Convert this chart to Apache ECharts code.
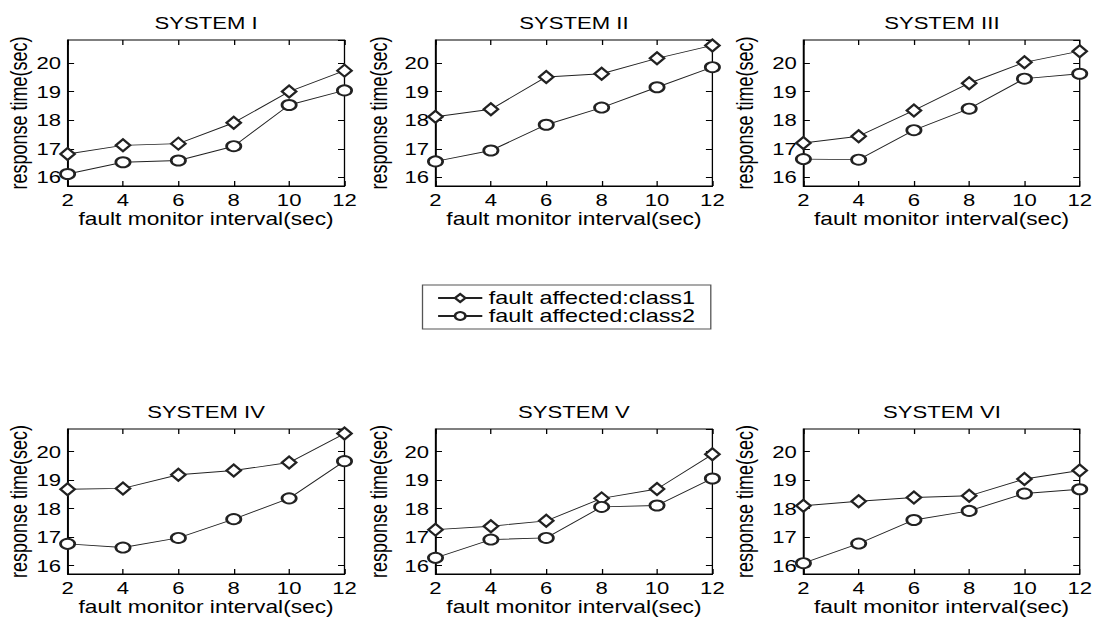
<!DOCTYPE html>
<html>
<head>
<meta charset="utf-8">
<script src="https://cdn.jsdelivr.net/npm/echarts@6.0.0/dist/echarts.min.js"></script>
<style>
html, body { margin: 0; padding: 0; background: #fff; }
#wrap { width: 1096px; height: 617px; overflow: hidden; }
/* the source picture is stretched sideways: draw narrow, then widen */
#xiantu { width: 843px; height: 617px; transform: scaleX(1.3); transform-origin: 0 0; }
</style>
</head>
<body>
<div id="wrap"><div id="xiantu"></div></div>
<script type="text/javascript">
var xs = [2, 4, 6, 8, 10, 12];
var titles = ['SYSTEM I', 'SYSTEM II', 'SYSTEM III', 'SYSTEM IV', 'SYSTEM V', 'SYSTEM VI'];
var names = ['fault affected:class1', 'fault affected:class2'];

// class1 (diamond) / class2 (circle)
var sys1a = [16.82, 17.12, 17.18, 17.91, 19.00, 19.73];
var sys1b = [16.12, 16.53, 16.59, 17.09, 18.53, 19.04];
var sys2a = [18.12, 18.38, 19.51, 19.62, 20.16, 20.61];
var sys2b = [16.56, 16.94, 17.84, 18.44, 19.15, 19.85];
var sys3a = [17.20, 17.44, 18.34, 19.29, 20.02, 20.41];
var sys3b = [16.64, 16.62, 17.65, 18.40, 19.45, 19.62];
var sys4a = [18.68, 18.71, 19.19, 19.34, 19.62, 20.64];
var sys4b = [16.76, 16.63, 16.97, 17.63, 18.36, 19.67];
var sys5a = [17.26, 17.38, 17.57, 18.36, 18.69, 19.91];
var sys5b = [16.27, 16.91, 16.97, 18.06, 18.11, 19.06];
var sys6a = [18.10, 18.26, 18.39, 18.45, 19.04, 19.34];
var sys6b = [16.08, 16.77, 17.60, 17.92, 18.53, 18.68];

var class1 = [sys1a, sys2a, sys3a, sys4a, sys5a, sys6a];
var class2 = [sys1b, sys2b, sys3b, sys4b, sys5b, sys6b];

var font = 'Liberation Sans, Arial, sans-serif';
var lefts = [52, 335, 618];
var tops = [40, 429];
var yGaps = [29, 35, 36];

var dom = document.getElementById("xiantu");
var myChart = echarts.init(dom, null, { renderer: 'svg' });
var option = null;

var grid = [], xAxis = [], yAxis = [], title = [], series = [];

function pairs(arr) {
	return xs.map(function (x, k) { return [x, arr[k]]; });
}

for (var i = 0; i < 6; i++) {
	var row = Math.floor(i / 3), col = i % 3;
	grid.push({
		left: lefts[col], top: tops[row], width: 213, height: 146,
		show: true, borderColor: '#000', borderWidth: 1, backgroundColor: 'transparent'
	});
	title.push({
		text: titles[i],
		left: lefts[col] + 106.5,
		top: row === 0 ? 14 : 403,
		textAlign: 'center',
		padding: 0,
		textStyle: { fontFamily: font, fontSize: 17, fontWeight: 'normal', color: '#000' }
	});
	// bottom x
	xAxis.push({
		gridIndex: i, type: 'value', position: 'bottom', min: 2, max: 12, interval: 2,
		name: 'fault monitor interval(sec)', nameLocation: 'middle', nameGap: 24,
		nameTextStyle: { fontFamily: font, fontSize: 17.5, color: '#000' },
		axisLine: { show: true, lineStyle: { color: '#000', width: 1 } },
		axisTick: { show: true, inside: true, length: 5, lineStyle: { color: '#000' } },
		axisLabel: { fontFamily: font, fontSize: 17, color: '#000', margin: 5 },
		splitLine: { show: false }
	});
	// top x, ticks only
	xAxis.push({
		gridIndex: i, type: 'value', position: 'top', min: 2, max: 12, interval: 2,
		axisLine: { show: false },
		axisTick: { show: true, inside: true, length: 5, lineStyle: { color: '#000' } },
		axisLabel: { show: false },
		splitLine: { show: false }
	});
	// left y
	yAxis.push({
		gridIndex: i, type: 'value', position: 'left', min: 15.7, max: 20.8, splitNumber: 5,
		name: 'response time(sec)', nameLocation: 'middle', nameGap: yGaps[col],
		nameTextStyle: { fontFamily: font, fontSize: 18, color: '#000' },
		axisLine: { show: true, lineStyle: { color: '#000', width: 1 } },
		axisTick: { show: true, inside: true, length: 5, lineStyle: { color: '#000' } },
		axisLabel: { fontFamily: font, fontSize: 17, color: '#000', margin: 5, showMinLabel: false, showMaxLabel: false },
		splitLine: { show: false }
	});
	// right y, ticks only
	yAxis.push({
		gridIndex: i, type: 'value', position: 'right', min: 15.7, max: 20.8, splitNumber: 5,
		axisLine: { show: false },
		axisTick: { show: true, inside: true, length: 5, lineStyle: { color: '#000' } },
		axisLabel: { show: false },
		splitLine: { show: false }
	});
	series.push({
		name: names[0], type: 'line', xAxisIndex: 2 * i, yAxisIndex: 2 * i,
		data: pairs(class1[i]),
		symbol: 'emptyDiamond', symbolSize: [11, 12],
		lineStyle: { color: '#222', width: 0.9 },
		itemStyle: { color: '#222', borderWidth: 0.8 },
		animation: false
	});
	series.push({
		name: names[1], type: 'line', xAxisIndex: 2 * i, yAxisIndex: 2 * i,
		data: pairs(class2[i]),
		symbol: 'emptyCircle', symbolSize: [11, 10],
		lineStyle: { color: '#222', width: 0.9 },
		itemStyle: { color: '#222', borderWidth: 0.8 },
		animation: false
	});
}

option = {
	backgroundColor: '#fff',
	animation: false,
	title: title,
	legend: {
		data: names,
		orient: 'vertical',
		left: 325, top: 285,
		padding: [4, 12, 4, 11],
		itemGap: 0,
		itemWidth: 34, itemHeight: 10,
		borderColor: '#555', borderWidth: 1,
		selectedMode: false,
		textStyle: { fontFamily: font, fontSize: 18, lineHeight: 16, color: '#000' }
	},
	grid: grid,
	xAxis: xAxis,
	yAxis: yAxis,
	series: series
};

if (option && typeof option === "object") {
	myChart.setOption(option, true);
}
</script>
</body>
</html>
